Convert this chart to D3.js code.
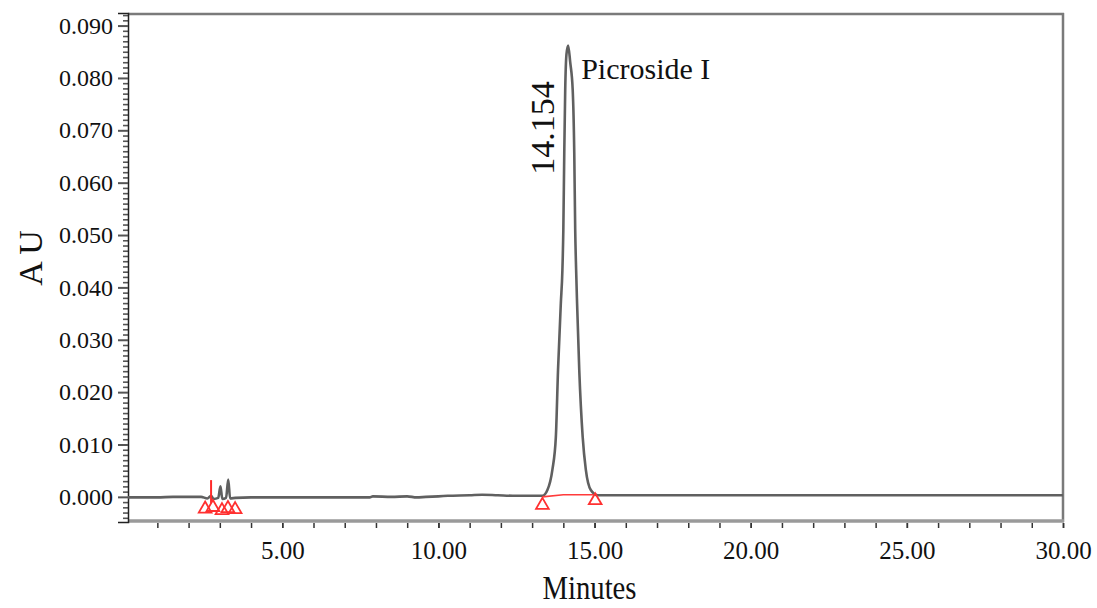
<!DOCTYPE html>
<html><head><meta charset="utf-8">
<script src="https://cdn.jsdelivr.net/npm/d3@7"></script>
<style>
body{margin:0;background:#fff;}
svg text{font-family:"Liberation Serif",serif;fill:#111;}
</style></head>
<body><svg id="c" width="1097" height="608"></svg>
<script>
// ---- data ----
const traceTime = [0.06,1.0,1.5,2.0,2.4,2.6,2.72,2.8,2.95,3.02,3.08,3.2,3.27,3.33,3.5,4.0,5.0,6.0,7.0,7.8,7.9,8.5,9.0,9.3,9.6,10.0,10.3,11.0,11.4,11.9,12.5,13.0,13.33,
  13.49,13.65,13.76,13.83,13.92,13.97,14.00,14.03,14.06,14.10,14.154,14.22,14.30,14.35,14.38,14.41,14.44,14.51,14.62,14.72,14.88,15.10,16.0,18.0,20.0,22.0,24.0,26.0,28.0,30.0];
const traceAU = [-0.0001,-0.0001,0.0000,0.0000,0.0000,-0.0003,0.0002,-0.0004,-0.0002,0.0020,-0.0004,-0.0002,0.0033,-0.0003,-0.0002,-0.0001,-0.0001,-0.0001,-0.0001,-0.0001,0.0001,0.0000,0.0001,-0.0001,0.0000,0.0001,0.0002,0.0003,0.0004,0.0003,0.0002,0.0002,0.0002,
  0.0013,0.0052,0.0114,0.0242,0.0370,0.0433,0.0510,0.0657,0.0777,0.0845,0.0862,0.0830,0.0777,0.0657,0.0510,0.0433,0.0370,0.0242,0.0114,0.0052,0.0013,0.0003,0.0003,0.0003,0.0003,0.0003,0.0003,0.0003,0.0003,0.0003];
const markerTime = [2.53,2.78,3.07,3.26,3.49,13.33,15.02];
const markerAU = [-0.0023,-0.0020,-0.0026,-0.0022,-0.0024,-0.0016,-0.0007];
const redSpikeTime = [2.72];
const redSpikeAU = [0.0032];
const peakBaseTime = [13.33,14.0,14.95];
const peakBaseAU = [0.0000,0.0004,0.0004];
const yMajor = [0.000,0.010,0.020,0.030,0.040,0.050,0.060,0.070,0.080,0.090];
const xMajor = [5,10,15,20,25,30];
const peakRT = "14.154";
const peakName = "Picroside I";

// ---- chart ----
const FONT = "Liberation Serif";
const svg = d3.select("#c");
const x = d3.scaleLinear().domain([0.06,30]).range([128,1063]);
const y = d3.scaleLinear().domain([-0.0048,0.0924]).range([522,13]);

// frame
svg.append("line").attr("x1",128).attr("x2",1064).attr("y1",14).attr("y2",14).attr("stroke","#7a7a7a").attr("stroke-width",2.5);
svg.append("line").attr("x1",1063).attr("x2",1063).attr("y1",13).attr("y2",522).attr("stroke","#7a7a7a").attr("stroke-width",2.5);
svg.append("line").attr("x1",128).attr("x2",1064).attr("y1",521).attr("y2",521).attr("stroke","#9a9a9a").attr("stroke-width",3.5);

// y axis minor ticks
const yMinor = d3.range(-4,93).map(i=>i/1000).filter(v=>Math.abs(Math.round(v*100)-v*100)>1e-6);
const gyMinor = svg.append("g").attr("transform","translate(128,0)")
  .call(d3.axisLeft(y).tickValues(yMinor).tickSize(5).tickFormat(""));
gyMinor.selectAll("line").attr("stroke","#555").attr("stroke-width",1.6);
gyMinor.select(".domain").remove();
const gy = svg.append("g").attr("transform","translate(128,0)")
  .call(d3.axisLeft(y).tickValues(yMajor).tickSize(10).tickPadding(5).tickFormat(d3.format(".3f")));
gy.select(".domain").attr("stroke","#222").attr("stroke-width",1.5);
gy.selectAll("line").attr("stroke","#555").attr("stroke-width",2);
gy.selectAll("text").attr("font-size",24).attr("font-family",FONT).attr("fill","#111");

// x axis
const gxMinor = svg.append("g").attr("transform","translate(0,523)")
  .call(d3.axisBottom(x).tickValues(d3.range(1,31)).tickSize(5).tickFormat(""));
gxMinor.select(".domain").remove();
gxMinor.selectAll("line").attr("stroke","#333").attr("stroke-width",1.5);
const gx = svg.append("g").attr("transform","translate(0,523)")
  .call(d3.axisBottom(x).tickValues(xMajor).tickSize(5).tickPadding(13).tickFormat(d3.format(".2f")));
gx.select(".domain").remove();
gx.selectAll("line").attr("stroke","#333").attr("stroke-width",1.5);
gx.selectAll("text").attr("font-size",25).attr("font-family",FONT).attr("fill","#111");

// trace
const pts = traceTime.map((t,i)=>[t,traceAU[i]]);
svg.append("path").datum(pts)
  .attr("d",d3.line().x(d=>x(d[0])).y(d=>y(d[1])).curve(d3.curveMonotoneX))
  .attr("fill","none").attr("stroke","#606060").attr("stroke-width",2.6);

// red peak baseline
svg.append("path").datum(peakBaseTime.map((t,i)=>[t,peakBaseAU[i]]))
  .attr("d",d3.line().x(d=>x(d[0])).y(d=>y(d[1])))
  .attr("fill","none").attr("stroke","#ff3b3b").attr("stroke-width",1.6);
// red spike
redSpikeTime.forEach((t,i)=>{
  svg.append("line").attr("x1",x(t)).attr("x2",x(t)).attr("y1",y(-0.0012)).attr("y2",y(redSpikeAU[i]))
    .attr("stroke","#ff2a2a").attr("stroke-width",2);
});
// red triangles
const tri = d3.symbol().type(d3.symbolTriangle).size(70);
markerTime.forEach((t,i)=>{
  svg.append("path").attr("d",tri()).attr("transform",`translate(${x(t)},${y(markerAU[i])})`)
    .attr("fill","none").attr("stroke","#ff3030").attr("stroke-width",1.8);
});

// labels
svg.append("text").attr("transform","translate(42,258) rotate(-90)").attr("text-anchor","middle")
  .attr("font-family",FONT).attr("font-size",34).text("A U");
svg.append("text").attr("x",589.5).attr("y",599).attr("text-anchor","middle").attr("font-family",FONT)
  .attr("font-size",34).attr("textLength",94).attr("lengthAdjust","spacingAndGlyphs").text("Minutes");
svg.append("text").attr("transform",`translate(${x(14.154)-14},128) rotate(-90)`).attr("text-anchor","middle")
  .attr("font-family",FONT).attr("font-size",34).text(peakRT);
svg.append("text").attr("x",x(14.154)+13).attr("y",79).attr("font-family",FONT).attr("font-size",30).text(peakName);
</script></body></html>
